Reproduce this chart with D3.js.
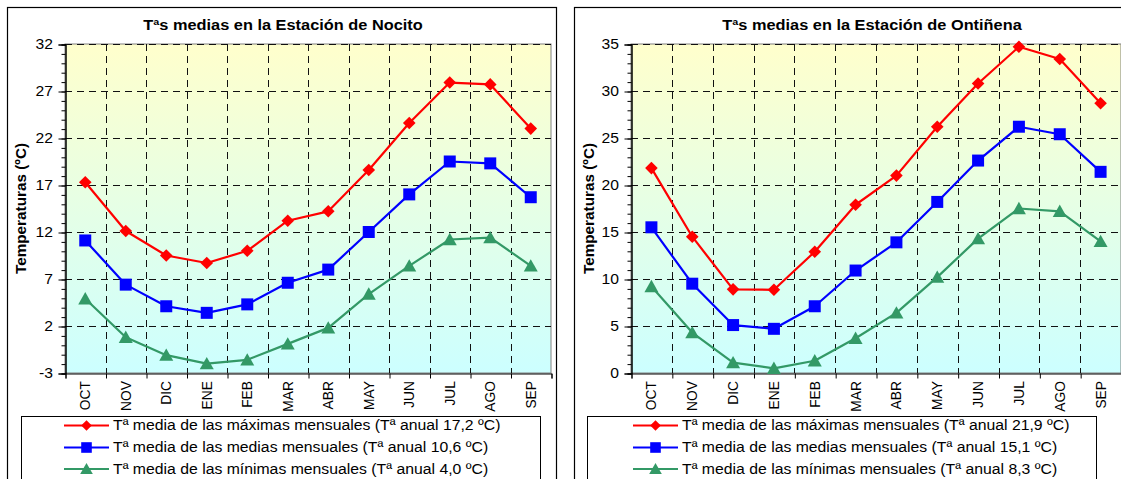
<!DOCTYPE html>
<html>
<head>
<meta charset="utf-8">
<script src="https://cdn.jsdelivr.net/npm/d3@7"></script>
<style>
  html, body { margin: 0; padding: 0; background: #fff; }
  svg { display: block; font-family: "Liberation Sans", Arial, sans-serif; }
</style>
</head>
<body>
<svg id="chart" width="1121" height="479"></svg>
<script>
// Months of the hydrological year (October to September)
const months = ["OCT", "NOV", "DIC", "ENE", "FEB", "MAR", "ABR", "MAY", "JUN", "JUL", "AGO", "SEP"];

// Nocito station, monthly mean temperatures (ºC)
const nocitoMax = [17.3, 12.1, 9.5, 8.7, 10.0, 13.2, 14.2, 18.6, 23.6, 27.9, 27.7, 23.0];
const nocitoMed = [11.1, 6.4, 4.1, 3.4, 4.3, 6.6, 8.0, 12.0, 16.0, 19.5, 19.3, 15.7];
const nocitoMin = [4.9, 0.8, -1.1, -2.0, -1.6, 0.1, 1.8, 5.4, 8.4, 11.2, 11.4, 8.4];
const nocitoTicks = [-3, 2, 7, 12, 17, 22, 27, 32];
const nocitoLegend = [
  "Tª media de las máximas mensuales (Tª anual 17,2 ºC)",
  "Tª media de las medias mensuales (Tª anual 10,6 ºC)",
  "Tª media de las mínimas mensuales (Tª anual 4,0 ºC)"
];

// Ontiñena station, monthly mean temperatures (ºC)
const ontMax = [21.8, 14.5, 8.9, 8.85, 12.9, 17.9, 21.0, 26.2, 30.8, 34.7, 33.4, 28.7];
const ontMed = [15.5, 9.5, 5.1, 4.7, 7.1, 10.9, 13.9, 18.2, 22.6, 26.2, 25.4, 21.4];
const ontMin = [9.2, 4.3, 1.1, 0.5, 1.3, 3.7, 6.4, 10.2, 14.3, 17.5, 17.2, 14.0];
const ontTicks = [0, 5, 10, 15, 20, 25, 30, 35];
const ontLegend = [
  "Tª media de las máximas mensuales (Tª anual 21,9 ºC)",
  "Tª media de las medias mensuales (Tª anual 15,1 ºC)",
  "Tª media de las mínimas mensuales (Tª anual 8,3 ºC)"
];

const seriesColors = ["#ff0000", "#0000ff", "#339966"];
const seriesShapes = ["diamond", "square", "triangle"];
const SX = 1.12; // horizontal text stretch of the exported chart

const svg = d3.select("#chart");
svg.append("rect").attr("width", 1121).attr("height", 479).attr("fill", "#fff");

const defs = svg.append("defs");
const grad = defs.append("linearGradient").attr("id", "plotBg")
  .attr("x1", 0).attr("y1", 0).attr("x2", 0).attr("y2", 1);
grad.append("stop").attr("offset", "0%").attr("stop-color", "#ffffcc");
grad.append("stop").attr("offset", "100%").attr("stop-color", "#ccffff");

function markerPath(shape, s) {
  if (shape === "diamond") return `M0,${-s}L${s},0L0,${s}L${-s},0Z`;
  if (shape === "square") return `M${-s},${-s}H${s}V${s}H${-s}Z`;
  return `M0,${-s - 0.5}L${s + 0.8},${s - 0.5}L${-s - 0.8},${s - 0.5}Z`;
}
const markerSize = { diamond: 6.3, square: 6, triangle: 6.2 };
const legendMarkerSize = { diamond: 5.3, square: 5.3, triangle: 5.5 };

function stretchedText(g, x, y, str, opts) {
  const t = g.append("text")
    .attr("transform", `translate(${x},${y}) scale(${SX},1)`)
    .attr("font-size", opts.size)
    .attr("text-anchor", opts.anchor || "start")
    .attr("dy", opts.dy || "0.35em")
    .attr("fill", "#000")
    .text(str);
  if (opts.bold) t.attr("font-weight", "bold");
  return t;
}

function drawPanel(cfg) {
  const g = svg.append("g");

  // chart frame
  g.append("rect")
    .attr("x", cfg.frame[0] + 0.5).attr("y", cfg.frame[1] + 0.5)
    .attr("width", cfg.frame[2]).attr("height", cfg.frame[3])
    .attr("fill", "#fff").attr("stroke", "#000").attr("stroke-width", 1.2);

  // title
  stretchedText(g, cfg.titleX, 25, cfg.title, { size: 14.6, bold: true, anchor: "middle" });

  const x = d3.scaleBand().domain(months).range([cfg.x0, cfg.x1]);
  const xEdge = d3.scaleLinear().domain([0, months.length]).range([cfg.x0, cfg.x1]);
  const y = d3.scaleLinear().domain(cfg.domain).range([373, 44]);
  const cx = m => x(m) + x.bandwidth() / 2;

  // plot area
  g.append("rect")
    .attr("x", cfg.x0).attr("y", y(cfg.domain[1]))
    .attr("width", cfg.x1 - cfg.x0).attr("height", y(cfg.domain[0]) - y(cfg.domain[1]))
    .attr("fill", "url(#plotBg)").attr("stroke", "#808080").attr("stroke-width", 1);

  // dashed grid
  const grid = g.append("g").attr("stroke", "#111").attr("stroke-width", 1)
    .attr("stroke-dasharray", "7,5").attr("fill", "none");
  grid.selectAll("line.h").data(cfg.ticks.filter(v => v !== cfg.domain[0]))
    .join("line")
    .attr("x1", cfg.x0).attr("x2", cfg.x1)
    .attr("y1", d => Math.round(y(d)) + 0.5).attr("y2", d => Math.round(y(d)) + 0.5);
  grid.selectAll("line.v").data(d3.range(1, months.length))
    .join("line")
    .attr("x1", d => Math.round(xEdge(d)) + 0.5).attr("x2", d => Math.round(xEdge(d)) + 0.5)
    .attr("y1", y(cfg.domain[1])).attr("y2", y(cfg.domain[0]));

  // y axis: minor ticks every degree, major ticks with labels
  const minorVals = d3.range(cfg.domain[0], cfg.domain[1] + 1);
  const yMinor = g.append("g").attr("transform", `translate(${cfg.x0 + 0.5},0.5)`)
    .call(d3.axisLeft(y).tickValues(minorVals).tickSize(4).tickFormat(""));
  const yMajor = g.append("g").attr("transform", `translate(${cfg.x0 + 0.5},0.5)`)
    .call(d3.axisLeft(y).tickValues(cfg.ticks).tickSize(7).tickFormat(""));
  [yMinor, yMajor].forEach(a => {
    a.select(".domain").attr("stroke", "#000");
    a.selectAll(".tick line").attr("stroke", "#000");
  });
  cfg.ticks.forEach(v => {
    stretchedText(g, cfg.x0 - 12, y(v), String(v), { size: 14, anchor: "end" });
  });

  // y axis title
  g.append("text")
    .attr("transform", `translate(${cfg.x0 - cfg.ytitleOff},${(y(cfg.domain[0]) + y(cfg.domain[1])) / 2}) rotate(-90)`)
    .attr("text-anchor", "middle").attr("dy", "0.35em")
    .attr("font-size", 15.3).attr("font-weight", "bold")
    .text("Temperaturas (ºC)");

  // x axis with ticks on month boundaries
  const xAxis = g.append("g").attr("transform", `translate(0.5,${Math.round(y(cfg.domain[0])) + 0.5})`)
    .call(d3.axisBottom(xEdge).tickValues(d3.range(0, months.length + 1)).tickSize(5).tickFormat(""));
  xAxis.select(".domain").attr("stroke", "#000");
  xAxis.selectAll(".tick line").attr("stroke", "#000");

  // rotated month labels
  g.selectAll("text.month").data(months).join("text")
    .attr("class", "month")
    .attr("transform", d => `translate(${cx(d)},381) rotate(-90)`)
    .attr("text-anchor", "end").attr("dy", "0.36em")
    .attr("font-size", 13.8)
    .text(d => d);

  // series lines and markers
  cfg.series.forEach((vals, i) => {
    const line = d3.line().x((d, j) => cx(months[j])).y(d => y(d));
    g.append("path").datum(vals)
      .attr("d", line).attr("fill", "none")
      .attr("stroke", seriesColors[i]).attr("stroke-width", 2.2)
      .attr("stroke-linejoin", "round");
    g.selectAll(`path.m${i}`).data(vals).join("path")
      .attr("class", `m${i}`)
      .attr("transform", (d, j) => `translate(${cx(months[j])},${y(d)})`)
      .attr("d", markerPath(seriesShapes[i], markerSize[seriesShapes[i]]))
      .attr("fill", seriesColors[i]);
  });

  // legend
  const lg = g.append("g");
  lg.append("rect")
    .attr("x", cfg.legendBox[0] + 0.5).attr("y", 416.5)
    .attr("width", cfg.legendBox[1]).attr("height", 80)
    .attr("fill", "#fff").attr("stroke", "#000").attr("stroke-width", 1);
  const rowsY = [425.5, 447.5, 469];
  cfg.legend.forEach((label, i) => {
    const ly = rowsY[i];
    lg.append("line")
      .attr("x1", cfg.legendLine[0]).attr("x2", cfg.legendLine[1])
      .attr("y1", ly).attr("y2", ly)
      .attr("stroke", seriesColors[i]).attr("stroke-width", 2.2);
    lg.append("path")
      .attr("transform", `translate(${(cfg.legendLine[0] + cfg.legendLine[1]) / 2},${ly})`)
      .attr("d", markerPath(seriesShapes[i], legendMarkerSize[seriesShapes[i]]))
      .attr("fill", seriesColors[i]);
    stretchedText(lg, cfg.legendLine[1] + 4, ly, label, { size: 14.1 });
  });
}

drawPanel({
  frame: [7, 7, 549, 490],
  title: "Tªs medias en la Estación de Nocito",
  titleX: 283,
  x0: 65, x1: 551,
  domain: [-3, 32],
  ticks: nocitoTicks,
  ytitleOff: 44,
  series: [nocitoMax, nocitoMed, nocitoMin],
  legend: nocitoLegend,
  legendBox: [21, 519],
  legendLine: [64, 109]
});

drawPanel({
  frame: [574, 7, 600, 490],
  title: "Tªs medias en la Estación de Ontiñena",
  titleX: 872,
  x0: 631, x1: 1121,
  domain: [0, 35],
  ticks: ontTicks,
  ytitleOff: 42,
  series: [ontMax, ontMed, ontMin],
  legend: ontLegend,
  legendBox: [587, 509],
  legendLine: [633, 678]
});
</script>
</body>
</html>
